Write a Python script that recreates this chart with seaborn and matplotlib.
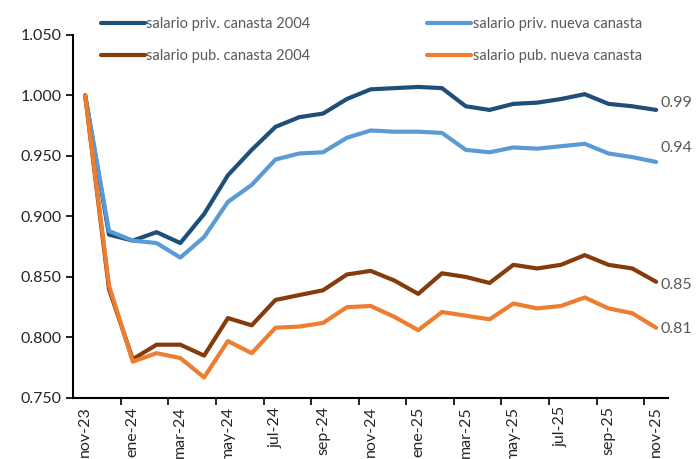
import pandas as pd
import numpy as np
import matplotlib
matplotlib.use("Agg")
import matplotlib.pyplot as plt
import seaborn as sns

# Data
meses = ['nov-23', 'dic-23', 'ene-24', 'feb-24', 'mar-24', 'abr-24', 'may-24', 'jun-24',
         'jul-24', 'ago-24', 'sep-24', 'oct-24', 'nov-24', 'dic-24', 'ene-25', 'feb-25',
         'mar-25', 'abr-25', 'may-25', 'jun-25', 'jul-25', 'ago-25', 'sep-25', 'oct-25', 'nov-25']

priv_2004 = [1.000, 0.885, 0.880, 0.887, 0.878, 0.902, 0.934, 0.955, 0.974, 0.982, 0.985, 0.997,
             1.005, 1.006, 1.007, 1.006, 0.991, 0.988, 0.993, 0.994, 0.997, 1.001, 0.993, 0.991, 0.988]
priv_nueva = [1.000, 0.888, 0.880, 0.878, 0.866, 0.883, 0.912, 0.926, 0.947, 0.952, 0.953, 0.965,
              0.971, 0.970, 0.970, 0.969, 0.955, 0.953, 0.957, 0.956, 0.958, 0.960, 0.952, 0.949, 0.945]
pub_2004 = [1.000, 0.840, 0.782, 0.794, 0.794, 0.785, 0.816, 0.810, 0.831, 0.835, 0.839, 0.852,
            0.855, 0.847, 0.836, 0.853, 0.850, 0.845, 0.860, 0.857, 0.860, 0.868, 0.860, 0.857, 0.846]
pub_nueva = [1.000, 0.843, 0.780, 0.787, 0.783, 0.767, 0.797, 0.787, 0.808, 0.809, 0.812, 0.825,
             0.826, 0.817, 0.806, 0.821, 0.818, 0.815, 0.828, 0.824, 0.826, 0.833, 0.824, 0.820, 0.808]

series = {
    'salario priv. canasta 2004': priv_2004,
    'salario priv. nueva canasta': priv_nueva,
    'salario pub. canasta 2004': pub_2004,
    'salario pub. nueva canasta': pub_nueva,
}
colores = ['#1F4E79', '#5B9BD5', '#843C0C', '#ED7D31']

df = pd.concat([pd.DataFrame({'mes': np.arange(len(meses)), 'valor': v, 'serie': k})
                for k, v in series.items()], ignore_index=True)

sns.set_style('white')
plt.rcParams['font.family'] = ['Lato', 'DejaVu Sans']

fig, ax = plt.subplots(figsize=(6.98, 4.59), dpi=100)
fig.subplots_adjust(left=0.105, right=0.957, top=0.924, bottom=0.133)

sns.lineplot(data=df, x='mes', y='valor', hue='serie', palette=colores,
             linewidth=3, ax=ax, legend=True)

# end labels (vertical nudge in points, like the Excel labels)
nudges = [5, 10, -2, -1]
for (k, v), dy in zip(series.items(), nudges):
    ax.annotate(f'{v[-1]:.2f}', xy=(len(meses) - 1, v[-1]), xytext=(3, dy),
                textcoords='offset points', ha='left', va='center',
                fontsize=11.5, color='#595959')

ax.set_xlim(-0.5, len(meses) - 0.5)
ax.set_ylim(0.75, 1.05)
ax.set_yticks(np.arange(0.75, 1.0501, 0.05))
ax.set_yticklabels([f'{t:.3f}' for t in np.arange(0.75, 1.0501, 0.05)], fontsize=11.5)

pos = np.arange(0, len(meses), 2)
ax.set_xticks(pos)
ax.set_xticklabels([meses[i] for i in pos], rotation=90, fontsize=11.5)
ax.set_xticks(np.arange(1.5, len(meses) - 1, 2), minor=True)
ax.tick_params(axis='x', which='major', length=0, pad=6)
ax.tick_params(axis='x', which='minor', length=5, width=1.2, direction='out', color='black', bottom=True)
ax.tick_params(axis='y', length=5, width=1.2, direction='out', color='black', left=True)
ax.set_xlabel('')
ax.set_ylabel('')

for s in ['top', 'right']:
    ax.spines[s].set_visible(False)
for s in ['left', 'bottom']:
    ax.spines[s].set_color('black')
    ax.spines[s].set_linewidth(1.5)

handles, labels = ax.get_legend_handles_labels()
order = [0, 2, 1, 3]
leg = ax.legend([handles[i] for i in order], [labels[i] for i in order], ncol=2,
                loc='upper left', bbox_to_anchor=(0.025, 1.085), frameon=False,
                fontsize=10.5, handlelength=3.0, handletextpad=0.1,
                columnspacing=8.0, labelspacing=1.2)
for t in leg.get_texts():
    t.set_color('#595959')

fig.savefig('out.png', dpi=100)
